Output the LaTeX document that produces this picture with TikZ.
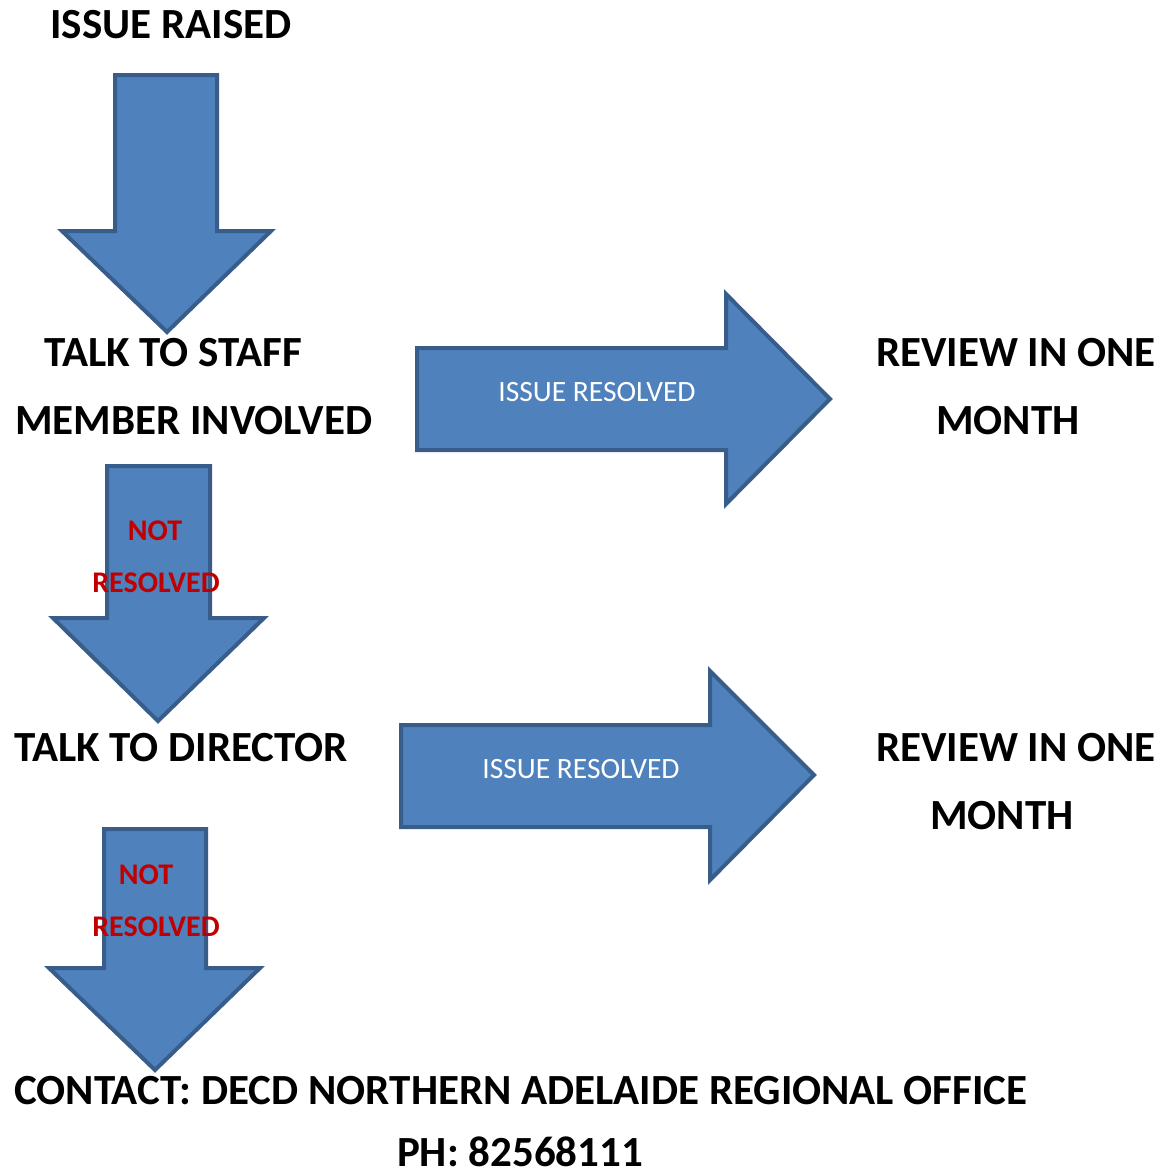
\documentclass[tikz,border=0pt]{standalone}
\usepackage{fontspec}
\setmainfont{Carlito}
\definecolor{arrfill}{HTML}{4F81BD}
\definecolor{arrline}{HTML}{385D8A}
\definecolor{darkred}{HTML}{C00000}
\begin{document}
\begin{tikzpicture}[x=1pt,y=-1pt,
  blockarrow/.style={fill=arrfill,draw=arrline,line width=4pt,line join=miter},
  bigtext/.style={font=\fontsize{43}{50}\selectfont\bfseries,inner sep=0pt},
  whitetext/.style={font=\fontsize{29.5}{34}\selectfont,text=white,inner sep=0pt},
  redtext/.style={font=\fontsize{30}{36}\selectfont\bfseries,text=darkred,inner sep=0pt}]
\useasboundingbox[fill=white] (0,0) rectangle (1161,1176);
% down arrows
\draw[blockarrow] (115,75) -- (217,75) -- (217,231) -- (271,231) -- (167,332) -- (62,231) -- (115,231) -- cycle;
\draw[blockarrow] (107,466) -- (210,466) -- (210,618) -- (264,618) -- (158,721) -- (53,618) -- (107,618) -- cycle;
\draw[blockarrow] (104,829) -- (206,829) -- (206,968) -- (260,968) -- (155,1070) -- (49,968) -- (104,968) -- cycle;
% right arrows
\draw[blockarrow] (417,348) -- (726,348) -- (726,294) -- (830,399) -- (726,504) -- (726,450) -- (417,450) -- cycle;
\draw[blockarrow] (401,725) -- (710,725) -- (710,671) -- (814,775) -- (710,880) -- (710,827) -- (401,827) -- cycle;
% texts
\node[bigtext,anchor=base] (raised) at (171,38) {ISSUE RAISED};
\node[bigtext,anchor=base] (staff1) at (173,366) {TALK TO STAFF};
\node[bigtext,anchor=base west] (staff2) at (15,434) {MEMBER INVOLVED};
\node[bigtext,anchor=base west] (director) at (14,761) {TALK TO DIRECTOR};
\node[bigtext,anchor=base] (rev1a) at (1016,366) {REVIEW IN ONE};
\node[bigtext,anchor=base] (rev1b) at (1008,434) {MONTH};
\node[bigtext,anchor=base] (rev2a) at (1016,761) {REVIEW IN ONE};
\node[bigtext,anchor=base] (rev2b) at (1002,829) {MONTH};
\node[bigtext,anchor=base west] (contact) at (14,1104) {CONTACT: DECD NORTHERN ADELAIDE REGIONAL OFFICE};
\node[bigtext,anchor=base] (phone) at (520,1166) {PH: 82568111};
\node[whitetext,anchor=base] (res1) at (597,401) {ISSUE RESOLVED};
\node[whitetext,anchor=base] (res2) at (581,778) {ISSUE RESOLVED};
\node[redtext,anchor=base] (nr1a) at (155,540) {NOT};
\node[redtext,anchor=base] (nr1b) at (156,592) {RESOLVED};
\node[redtext,anchor=base] (nr2a) at (146,884) {NOT};
\node[redtext,anchor=base] (nr2b) at (156,936) {RESOLVED};
\end{tikzpicture}
\end{document}
